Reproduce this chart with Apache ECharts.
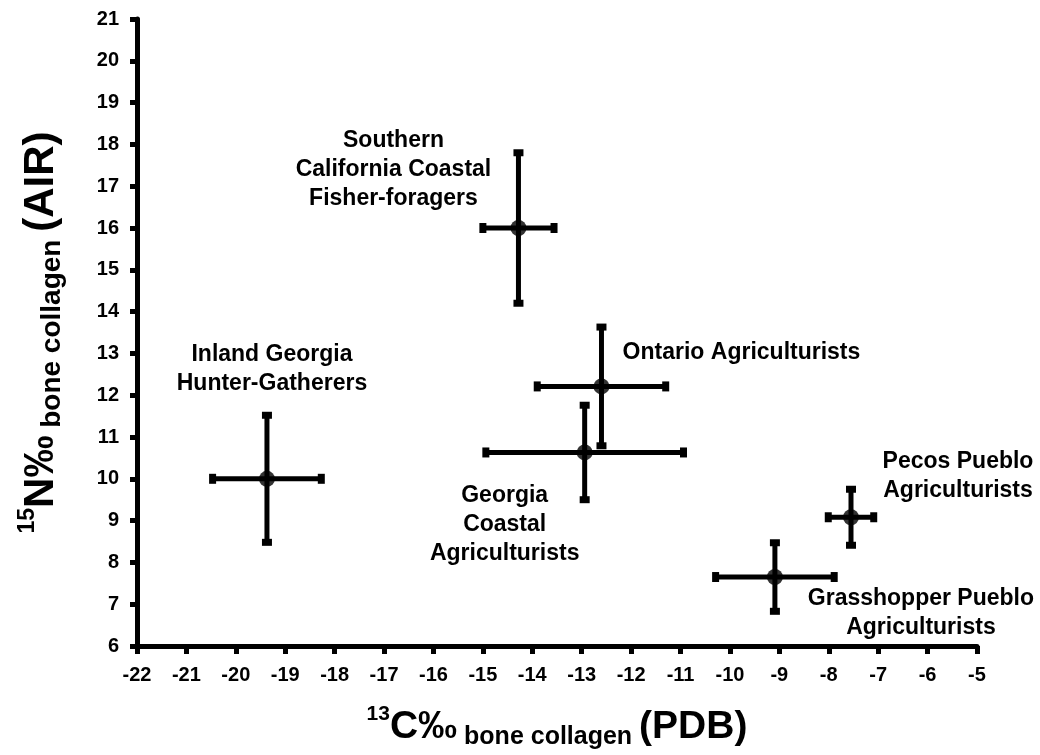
<!DOCTYPE html>
<html><head><meta charset="utf-8">
<script src="https://cdn.jsdelivr.net/npm/echarts@6/dist/echarts.min.js"></script>
<style>html,body{margin:0;padding:0;background:#fff}#c{width:1040px;height:755px}</style>
</head><body><div id="c"></div>
<script>
// Data
const groups = [
  "Inland Georgia\nHunter-Gatherers",
  "Southern\nCalifornia Coastal\nFisher-foragers",
  "Ontario Agriculturists",
  "Georgia\nCoastal\nAgriculturists",
  "Pecos Pueblo\nAgriculturists",
  "Grasshopper Pueblo\nAgriculturists"
];
const d13C =    [-19.37, -14.28, -12.6,  -12.94, -7.55, -9.09];
const d15N =    [10.0,   16.0,   12.21,  10.63,  9.08,  7.65];
const sd13C =   [1.1,    0.72,   1.3,    2.0,    0.46,  1.2];
const sd15N =   [1.52,   1.8,    1.42,   1.13,   0.67,  0.82];
const xTicks = {min: -22, max: -5, interval: 1};
const yTicks = {min: 6, max: 21, interval: 1};

// label placement (pixel offsets of each label's centre from its point)
const labelOffsets = [
  [5, -110],
  [-125, -58],
  [140, -34],
  [-80, 72],
  [107, -41],
  [146, 36]
];

const font = '"Liberation Sans", Arial, sans-serif';
const chart = echarts.init(document.getElementById('c'));

const errData = d13C.map((x, i) => [x, d15N[i], sd13C[i], sd15N[i]]);
const ptData = d13C.map((x, i) => ({
  value: [x, d15N[i]],
  label: {
    show: true, formatter: groups[i], position: 'inside',
    offset: labelOffsets[i], align: 'center', verticalAlign: 'middle',
    color: '#000', fontFamily: font, fontWeight: 'bold', fontSize: 23, lineHeight: 29,
    textBorderWidth: 0, textBorderColor: 'transparent', opacity: 1
  }
}));

const tickFont = {color: '#000', fontFamily: font, fontWeight: 'bold', fontSize: 20};

chart.setOption({
  animation: false,
  backgroundColor: '#fff',
  grid: {left: 137, right: 63, top: 19, bottom: 108, containLabel: false},
  xAxis: {
    type: 'value', min: xTicks.min, max: xTicks.max, interval: xTicks.interval,
    splitLine: {show: false},
    axisLine: {onZero: false, lineStyle: {color: '#000', width: 5}},
    axisTick: {show: true, inside: false, length: 8, lineStyle: {color: '#000', width: 5}},
    axisLabel: Object.assign({margin: 19}, tickFont),
    name: '{sup|13}{big|C‰}{sub| bone collagen }{big|(PDB)}',
    nameLocation: 'middle', nameGap: 58,
    nameTextStyle: {
      rich: {
        sup: {fontFamily: font, fontWeight: 'bold', fontSize: 21, color: '#000', padding: [0, 0, 26, 0]},
        big: {fontFamily: font, fontWeight: 'bold', fontSize: 39, color: '#000'},
        sub: {fontFamily: font, fontWeight: 'bold', fontSize: 25, color: '#000', padding: [20, 0, 0, 0]}
      }
    }
  },
  yAxis: {
    type: 'value', min: yTicks.min, max: yTicks.max, interval: yTicks.interval,
    splitLine: {show: false},
    axisLine: {onZero: false, lineStyle: {color: '#000', width: 5}},
    axisTick: {show: true, inside: false, length: 7, lineStyle: {color: '#000', width: 5}},
    axisLabel: Object.assign({margin: 18}, tickFont),
    name: '{sup|15}{big|N‰}{sub| bone collagen }{big|(AIR)}',
    nameLocation: 'middle', nameGap: 70, nameRotate: 90,
    nameTextStyle: {
      rich: {
        sup: {fontFamily: font, fontWeight: 'bold', fontSize: 23, color: '#000', padding: [0, 0, 28, 0]},
        big: {fontFamily: font, fontWeight: 'bold', fontSize: 42, color: '#000'},
        sub: {fontFamily: font, fontWeight: 'bold', fontSize: 28, color: '#000', padding: [22, 0, 0, 0]}
      }
    }
  },
  series: [
    {
      type: 'custom',
      data: errData,
      z: 2,
      renderItem: function (params, api) {
        const x = api.value(0), y = api.value(1), ex = api.value(2), ey = api.value(3);
        const l = api.coord([x - ex, y]);
        const r = api.coord([x + ex, y]);
        const t = api.coord([x, y + ey]);
        const b = api.coord([x, y - ey]);
        const lw = 5, cap = 5, capW = 3.5;
        const st = {stroke: '#000', lineWidth: lw, fill: null};
        const capSt = {fill: '#000'};
        return {
          type: 'group',
          children: [
            {type: 'line', shape: {x1: l[0], y1: l[1], x2: r[0], y2: r[1]}, style: st},
            {type: 'line', shape: {x1: t[0], y1: t[1], x2: b[0], y2: b[1]}, style: st},
            {type: 'rect', shape: {x: l[0] - capW, y: l[1] - cap, width: capW * 2, height: cap * 2}, style: capSt},
            {type: 'rect', shape: {x: r[0] - capW, y: r[1] - cap, width: capW * 2, height: cap * 2}, style: capSt},
            {type: 'rect', shape: {x: t[0] - cap, y: t[1] - capW, width: cap * 2, height: capW * 2}, style: capSt},
            {type: 'rect', shape: {x: b[0] - cap, y: b[1] - capW, width: cap * 2, height: capW * 2}, style: capSt}
          ]
        };
      }
    },
    {
      type: 'scatter',
      data: ptData,
      z: 3,
      symbol: 'circle', symbolSize: 16,
      itemStyle: {color: '#000'}
    }
  ]
});
</script>
</body></html>
